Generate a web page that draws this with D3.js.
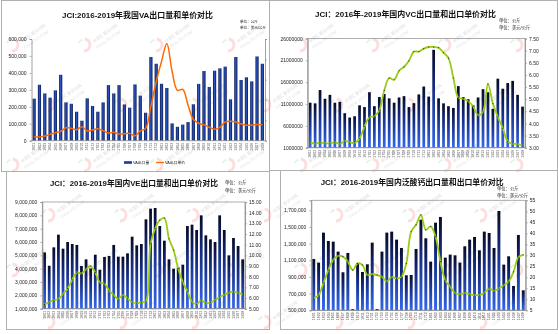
<!DOCTYPE html>
<html><head><meta charset="utf-8">
<script src="https://cdn.jsdelivr.net/npm/d3@7"></script>
<style>
body{margin:0;background:#fff}
svg{display:block}
text{font-family:"Liberation Sans",Arial,"Noto Sans CJK SC",sans-serif}
</style>
</head><body>
<svg id="c" width="558" height="334"></svg>
<script>
// ---------- DATA ----------
const months = ["1601","1602","1603","1604","1605","1606","1607","1608","1609","1610","1611","1612",
"1701","1702","1703","1704","1705","1706","1707","1708","1709","1710","1711","1712",
"1801","1802","1803","1804","1805","1806","1807","1808","1809","1810","1811","1812",
"1901","1902","1903","1904","1905","1906","1907","1908"];

const vaVolume = [248000,330000,279000,254000,297000,389000,226000,218000,171000,118000,
250000,205000,171000,226000,328000,279000,328000,214000,195000,332000,
266000,165000,494000,454000,336000,311000,102000,82000,95000,110000,
215000,335000,411000,317000,413000,427000,437000,244000,494000,358000,
374000,350000,497000,454000];
const vaPrice = [9.8,9.0,11.5,15.6,19.7,23,32,30.3,27,34.4,
23.8,26.2,29.5,24.6,18.9,20.5,16.4,17.2,18,12.3,
24,30,85,145,195,239,170,124,126,88,
52,43,39,33,28,33,46,48,46,41,
38,38,40,39];

const vcVolume = [11300000,11150000,14200000,12200000,13100000,11300000,11500000,8900000,7900000,8200000,
10700000,10300000,13700000,10500000,12600000,13300000,12300000,11300000,12500000,12800000,
10300000,11200000,13200000,15000000,12700000,23400000,12300000,11150000,10500000,10100000,
15100000,12600000,12100000,10700000,12500000,14400000,13700000,9900000,16800000,14500000,
15800000,16300000,13100000,10400000];
const vcPrice = [3.23,3.16,3.22,3.18,3.18,3.22,3.16,3.27,3.23,3.19,
3.38,3.87,4.25,4.30,4.54,5.36,5.87,5.80,6.17,6.33,
6.58,6.96,6.96,7.08,7.15,7.15,7.12,6.92,6.69,5.87,
5.06,5.02,4.91,4.71,4.34,4.48,5.63,4.82,4.27,3.80,
3.26,3.16,3.16,3.08];

const veVolume = [5220000,4220000,5600000,6550000,5500000,6000000,5850000,5780000,4200000,4700000,
4020000,5050000,3920000,4880000,4950000,5780000,4900000,4900000,5150000,6400000,
5750000,5850000,7700000,8500000,8550000,7200000,6100000,4700000,4000000,4100000,
4300000,7200000,7300000,6900000,8000000,6500000,6200000,6000000,8000000,6900000,
5000000,6300000,5700000,4700000];
const vePrice = [5.4,5.6,5.8,5.9,6.4,6.9,7.7,8.4,8.3,8.7,
9.0,8.4,7.45,7.35,6.7,6.3,5.9,6.3,5.95,5.6,
5.5,5.6,5.7,11.1,12.5,13.3,13.5,11.55,10.5,8.75,
7.5,6.6,5.65,5.4,5.8,5.5,5.6,5.8,6.1,6.3,
6.5,6.6,6.5,6.3];

const caVolume = [1116000,1072000,1432000,1332000,1324000,1204000,956000,1188000,515000,1068000,
960000,1052000,1312000,515000,1204000,1432000,1444000,1348000,1248000,920000,
924000,1236000,1588000,1364000,1084000,1552000,1620000,1132000,1168000,1160000,
1072000,1268000,1348000,1380000,1220000,1444000,1428000,1248000,1692000,1048000,
1148000,792000,1404000,740000];
const caPrice = [10.6,11.9,17.5,23.3,27.9,29.7,29.4,27.1,23.3,26.3,
25.6,21.0,21.5,21.0,20.2,18.0,20.2,19.5,20.2,26.3,
40.8,43.9,48.4,41.6,43.1,38.5,27.1,18.7,15.7,12.9,
12.3,12.9,12.3,11.9,11.9,12.9,14.9,13.8,14.9,16.4,
18.0,22.5,29.1,30.2];

const vaTicksL = [0,100000,200000,300000,400000,500000,600000];
const vaTicksR = [0,50,100,150,200,250];
const vcTicksL = [1000000,6000000,11000000,16000000,21000000,26000000];
const vcTicksR = [3.0,3.5,4.0,4.5,5.0,5.5,6.0,6.5,7.0,7.5];
const veTicksL = [1000000,2000000,3000000,4000000,5000000,6000000,7000000,8000000,9000000];
const veTicksR = [5,6,7,8,9,10,11,12,13,14,15];
const caTicksL = [500000,700000,900000,1100000,1300000,1500000,1700000];
const caTicksR = [5,10,15,20,25,30,35,40,45,50,55];

const titles = ["JCI:2016-2019年我国VA出口量和单价对比",
"JCI：2016年-2019年国内VC出口量和出口单价对比",
"JCI：2016-2019年国内VE出口量和出口单价对比",
"JCI：2016-2019年国内泛酸钙出口量和出口单价对比"];
const unitVol = "单位：公斤";
const unitPrice = "单位：美元/公斤";
const legendNames = ["VA出口量","VA出口单价"];

// ---------- DRAW ----------
const svg = d3.select("#c");
const defs = svg.append("defs");
const gH = defs.append("linearGradient").attr("id","barH").attr("x1",0).attr("x2",1).attr("y1",0).attr("y2",0);
[["0","#081650"],["0.45","#2c58c4"],["1","#081650"]].forEach(s=>gH.append("stop").attr("offset",s[0]).attr("stop-color",s[1]));
const gV = defs.append("linearGradient").attr("id","barV").attr("x1",0).attr("x2",0).attr("y1",0).attr("y2",1);
[["0","#070b26"],["0.35","#13287a"],["1","#3468ee"]].forEach(s=>gV.append("stop").attr("offset",s[0]).attr("stop-color",s[1]));

// watermarks
const wm = svg.append("g").attr("opacity",0.55);
const rowsY = [45,105,165,215,270,322];
rowsY.forEach((yy,ri)=>{
  for(let k=0;k<8;k++){
    const xx = 12 + 72*k + (ri%2)*36;
    if(xx>548) continue;
    const lg = wm.append("g").attr("transform",`translate(${xx},${yy})`);
    lg.append("path").attr("d",d3.arc()({innerRadius:4.5,outerRadius:7.5,startAngle:0.1,endAngle:Math.PI}))
      .attr("fill","#f07c7c").attr("opacity",0.45);
    lg.append("path").attr("d",d3.arc()({innerRadius:4.5,outerRadius:6.5,startAngle:-1.2,endAngle:-0.3}))
      .attr("fill","#8fd48f").attr("opacity",0.45);
    if(xx+40 < 552 && yy > 20){
      lg.append("text").attr("x",10).attr("y",-2).attr("transform","rotate(-35,10,-2)")
        .attr("font-size",4.2).attr("fill","#c4c4c4").text("中国汇易资讯网");
      lg.append("text").attr("x",13).attr("y",4).attr("transform","rotate(-35,13,4)")
        .attr("font-size",4.2).attr("fill","#cccccc").text("China JCI.COM");
    }
  }
});

// panel frames
const frames = [[1,0,268,171],[269,0,288,170],[6,171,263,158],[280,170,277,159]];
svg.append("g").selectAll("rect").data(frames).join("rect")
  .attr("x",d=>d[0]+0.5).attr("y",d=>d[1]+0.5).attr("width",d=>d[2]).attr("height",d=>d[3])
  .attr("fill","none").attr("stroke","#b0b0b0").attr("stroke-width",1);

const panels = [
 {vol:vaVolume, price:vaPrice, lDom:[0,600000], rDom:[0,250], lT:vaTicksL, rT:vaTicksR, lF:d3.format(","), rF:null,
  left:31.5,right:265,top:39,bottom:140.7,pad:0.4, grad:"barH", lineColor:"#ff6a00", markers:false, frame:false,
  title:titles[0], tx:62, tw:151, ty:18, ux:240, uy1:22.5, uy2:29, ufs:3.6, xfs:3.6},
 {vol:vcVolume, price:vcPrice, lDom:[1000000,26000000], rDom:[3,7.5], lT:vcTicksL, rT:vcTicksR, lF:d3.format("d"), rF:d3.format(".2f"),
  left:307.7,right:525,top:38.5,bottom:147.7,pad:0.45, grad:"barV", lineColor:"#9acc14", markers:true, frame:true,
  title:titles[1], tx:315, tw:181, ty:17, ux:499, uy1:22, uy2:29, ufs:4.3, xfs:3.6},
 {vol:veVolume, price:vePrice, lDom:[1000000,9000000], rDom:[5,15], lT:veTicksL, rT:veTicksR, lF:d3.format(","), rF:d3.format(".2f"),
  left:42.3,right:245,top:202,bottom:308.7,pad:0.4, grad:"barV", lineColor:"#9acc14", markers:true, frame:true,
  title:titles[2], tx:50, tw:168, ty:186, ux:225, uy1:184, uy2:192, ufs:4.3, xfs:3.6},
 {vol:caVolume, price:caPrice, lDom:[500000,1820000], rDom:[5,55], lT:caTicksL, rT:caTicksR, lF:d3.format(","), rF:d3.format("d"),
  left:311.3,right:525.7,top:200.3,bottom:310.3,pad:0.4, grad:"barV", lineColor:"#9acc14", markers:true, frame:true,
  title:titles[3], tx:320.7, tw:183, ty:185, ux:497, uy1:190, uy2:196.5, ufs:4.3, xfs:3.6}
];

panels.forEach((p,pi)=>{
  const g = svg.append("g");
  const x = d3.scaleBand().domain(months).range([p.left,p.right]).paddingInner(p.pad).paddingOuter(p.pad/2);
  const yL = d3.scaleLinear().domain(p.lDom).range([p.bottom,p.top]);
  const yR = d3.scaleLinear().domain(p.rDom).range([p.bottom,p.top]);
  if(p.frame){
    g.append("rect").attr("x",p.left).attr("y",p.top).attr("width",p.right-p.left).attr("height",p.bottom-p.top)
     .attr("fill","none").attr("stroke","#9a9a9a").attr("stroke-width",0.8);
  }
  // bars
  g.append("g").selectAll("rect").data(p.vol).join("rect")
    .attr("x",(d,i)=>x(months[i])).attr("width",x.bandwidth())
    .attr("y",d=>yL(d)).attr("height",d=>p.bottom-yL(d))
    .attr("fill",`url(#${p.grad})`);
  // line
  const line = d3.line().x((d,i)=>x(months[i])+x.bandwidth()/2).y(d=>yR(d)).curve(d3.curveCatmullRom.alpha(0.5));
  g.append("path").datum(p.price).attr("d",line).attr("fill","none")
    .attr("stroke",p.lineColor).attr("stroke-width",p.markers?1.8:1.5).attr("stroke-linejoin","round");
  if(p.markers){
    g.append("g").selectAll("circle").data(p.price).join("circle")
      .attr("cx",(d,i)=>x(months[i])+x.bandwidth()/2).attr("cy",d=>yR(d)).attr("r",0.6).attr("fill","#2a3a1a");
  }
  // axes
  const aL = g.append("g").attr("transform",`translate(${p.left},0)`)
    .call(d3.axisLeft(yL).tickValues(p.lT).tickFormat(p.lF).tickSize(2).tickPadding(3));
  const aR = g.append("g").attr("transform",`translate(${p.right},0)`)
    .call(d3.axisRight(yR).tickValues(p.rT).tickFormat(p.rF ? p.rF : ()=>"").tickSize(2).tickPadding(2));
  [aL,aR].forEach(a=>{
    a.select(".domain").attr("stroke","#8a8a8a").attr("stroke-width",0.8);
    a.selectAll(".tick line").attr("stroke","#8a8a8a").attr("stroke-width",0.6);
    a.selectAll("text").attr("font-size",5).attr("fill","#222").attr("font-family","Liberation Sans, Arial, sans-serif");
  });
  // bottom axis line
  g.append("line").attr("x1",p.left).attr("x2",p.right).attr("y1",p.bottom).attr("y2",p.bottom)
    .attr("stroke","#8a8a8a").attr("stroke-width",0.8);
  // x labels
  g.append("g").selectAll("text").data(months).join("text")
    .attr("transform",m=>`translate(${x(m)+x.bandwidth()/2+1.2},${p.bottom+2}) rotate(-90)`)
    .attr("text-anchor","end").attr("font-size",p.xfs).attr("fill","#555").text(m=>m);
  // title
  g.append("text").attr("x",p.tx).attr("y",p.ty).attr("textLength",p.tw).attr("lengthAdjust","spacingAndGlyphs")
    .attr("font-size",7.8).attr("font-weight","bold").attr("fill","#111").text(p.title);
  g.append("text").attr("x",p.ux).attr("y",p.uy1).attr("font-size",p.ufs).attr("fill","#222").text(unitVol);
  g.append("text").attr("x",p.ux).attr("y",p.uy2).attr("font-size",p.ufs).attr("fill","#222").text(unitPrice);
});

// legend for panel 1
const lg = svg.append("g");
lg.append("rect").attr("x",124).attr("y",161.2).attr("width",8).attr("height",2.6).attr("fill","#1c3a9c");
lg.append("text").attr("x",133).attr("y",164).attr("font-size",3.8).attr("fill","#222").text(legendNames[0]);
lg.append("line").attr("x1",156).attr("x2",164).attr("y1",162.5).attr("y2",162.5).attr("stroke","#ff6a00").attr("stroke-width",1.3);
lg.append("text").attr("x",165).attr("y",164).attr("font-size",3.8).attr("fill","#222").text(legendNames[1]);
</script>
</body></html>
